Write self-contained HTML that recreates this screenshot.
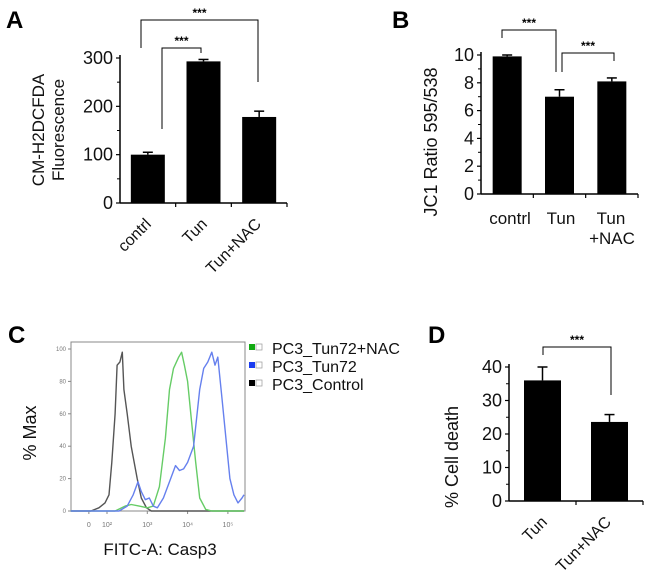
<!DOCTYPE html>
<html><head><meta charset="utf-8"><style>
html,body{margin:0;padding:0;background:#fff}
svg{display:block;font-family:"Liberation Sans",Arial,sans-serif}
</style></head><body>
<svg id="fig" width="650" height="583" viewBox="0 0 650 583">
<g id="A"></g>
<g id="B"></g>
<g id="C"></g>
<g id="D"></g>
</svg>
<script>
// Panel A data
const aCats=["contrl","Tun","Tun+NAC"];
const aVals=[100,293,178];
const aErr=[5,4,12];
const aTicks=[0,100,200,300];
// Panel B data
const bCats=["contrl","Tun","Tun"];
const bVals=[9.9,7.0,8.1];
const bErr=[0.1,0.5,0.25];
const bTicks=[0,2,4,6,8,10];
// Panel D data
const dCats=["Tun","Tun+NAC"];
const dVals=[36,23.6];
const dErr=[4,2.2];
const dTicks=[0,10,20,30,40];
// Panel C histogram data (x in log10 decades, y in % max)
const cTickLabels=["0","10²","10³","10⁴","10⁵"];
const cTickVals=[1.55,2,3,4,5];
const cYTicks=[0,20,40,60,80,100];
const cControl=[[1.1,0],[1.6,0],[1.8,2],[1.95,5],[2.05,10],[2.12,30],[2.2,60],[2.25,90],[2.32,92],[2.38,98],[2.42,75],[2.5,60],[2.6,40],[2.75,20],[2.85,8],[2.98,2],[3.1,0],[5.4,0]];
const cNac=[[1.1,0],[2.2,0],[2.45,3],[2.6,4],[2.8,3],[3.0,2],[3.15,3],[3.3,15],[3.45,45],[3.55,75],[3.65,88],[3.78,95],[3.85,98],[3.92,90],[4.0,80],[4.1,55],[4.2,30],[4.3,8],[4.45,1],[4.6,0],[5.4,0]];
const cTun=[[1.1,0],[2.3,0],[2.5,3],[2.65,10],[2.77,18],[2.85,12],[2.95,7],[3.05,8],[3.15,3],[3.25,2],[3.4,8],[3.55,18],[3.7,28],[3.8,25],[3.9,26],[4.0,30],[4.15,40],[4.3,75],[4.4,88],[4.5,92],[4.6,98],[4.68,90],[4.75,95],[4.85,70],[4.95,45],[5.05,20],[5.15,10],[5.25,5],[5.35,8],[5.4,10]];

const NS="http://www.w3.org/2000/svg";
function mk(p,t,a,txt){const e=document.createElementNS(NS,t);for(const k in a)e.setAttribute(k,a[k]);if(txt!==undefined)e.textContent=txt;p.appendChild(e);return e;}

function barPanel(g,o){
  const y=v=>o.y0-(v/o.max)*(o.y0-o.yTop);
  mk(g,'line',{x1:o.ax,y1:o.yTop-3,x2:o.ax,y2:o.y0,stroke:'#000','stroke-width':1.5});
  mk(g,'line',{x1:o.ax,y1:o.y0,x2:o.xEnd,y2:o.y0,stroke:'#000','stroke-width':1.5});
  o.ticks.forEach((t,i)=>{
    const ty=y(t);
    mk(g,'line',{x1:o.ax-4,y1:ty,x2:o.ax,y2:ty,stroke:'#000','stroke-width':1.2});
    if(i<o.ticks.length-1){const my=y((t+o.ticks[i+1])/2);mk(g,'line',{x1:o.ax-3,y1:my,x2:o.ax,y2:my,stroke:'#000','stroke-width':1});}
    const tl=mk(g,'text',{x:o.ax-7,y:ty+6,'text-anchor':'end','font-size':18,fill:'#111'},String(t));
    
    
  });
  const n=o.vals.length, step=(o.xEnd-o.ax)/n;
  for(let i=1;i<=n;i++)mk(g,'line',{x1:o.ax+step*i,y1:o.y0,x2:o.ax+step*i,y2:o.y0+4,stroke:'#000','stroke-width':1.2});
  o.vals.forEach((v,i)=>{
    const cx=o.ax+step*(i+0.5);
    const bw=o.bw;
    mk(g,'line',{x1:cx,y1:y(v),x2:cx,y2:y(v+o.err[i]),stroke:'#000','stroke-width':1.5});
    mk(g,'line',{x1:cx-5,y1:y(v+o.err[i]),x2:cx+5,y2:y(v+o.err[i]),stroke:'#000','stroke-width':1.5});
    const r=mk(g,'rect',{x:cx-bw/2,y:y(v),width:bw,height:o.y0-y(v),fill:'#000'});
    
    
  });
  return {y,step};
}
function bracket(g,x1,yd1,x2,yd2,yb){
  mk(g,'path',{d:`M${x1},${yd1}V${yb}H${x2}V${yd2}`,fill:'none',stroke:'#000','stroke-width':1});
  const s=mk(g,'text',{x:(x1+x2)/2,y:yb-3,'text-anchor':'middle','font-size':12,'font-weight':'bold',fill:'#000'},'***');
  
  
}
function label(g,x,y,t){const e=mk(g,'text',{x,y,'font-size':24,'font-weight':'bold',fill:'#000'},t);}

// Panel A
const A=document.getElementById('A');
label(A,6,28,'A');
barPanel(A,{ax:120,y0:203,yTop:58,max:300,xEnd:287,ticks:aTicks,vals:aVals,err:aErr,cats:aCats,bw:34});
bracket(A,141,48,258,82,20);
bracket(A,162,129,201,53,48);
aCats.forEach((c,i)=>{const x=[152,208,262][i];const t=mk(A,'text',{x,y:225,'text-anchor':'end','font-size':16,transform:`rotate(-45 ${x} 225)`,fill:'#111'},c);});
let t=mk(A,'text',{x:0,y:0,'text-anchor':'middle','font-size':17,transform:'translate(44,130) rotate(-90)',fill:'#111'},'CM-H2DCFDA');
t=mk(A,'text',{x:0,y:0,'text-anchor':'middle','font-size':17,transform:'translate(64,130) rotate(-90)',fill:'#111'},'Fluorescence');

// Panel B
const B=document.getElementById('B');
label(B,392,28,'B');
barPanel(B,{ax:481,y0:194,yTop:55,max:10,xEnd:638,ticks:bTicks,vals:bVals,err:bErr,cats:['contrl','tun','tunnac'],bw:29});
bracket(B,502,38,556,72,30);
bracket(B,562,72,614,61,53);
[[510,'contrl'],[561,'Tun'],[611,'Tun']].forEach(([x,s])=>{const e=mk(B,'text',{x,y:224,'text-anchor':'middle','font-size':17,fill:'#111'},s);});
t=mk(B,'text',{x:612,y:244,'text-anchor':'middle','font-size':17,fill:'#111'},'+NAC');
t=mk(B,'text',{x:0,y:0,'text-anchor':'middle','font-size':18,transform:'translate(437,142) rotate(-90)',fill:'#111'},'JC1 Ratio 595/538');

// Panel D
const D=document.getElementById('D');
label(D,428,343,'D');
barPanel(D,{ax:509,y0:501,yTop:367,max:40,xEnd:643,ticks:dTicks,vals:dVals,err:dErr,cats:dCats,bw:37});
bracket(D,543,355,611,395,347);
dCats.forEach((c,i)=>{const x=[548,612][i];const e=mk(D,'text',{x,y:523,'text-anchor':'end','font-size':16,transform:`rotate(-45 ${x} 523)`,fill:'#111'},c);});
t=mk(D,'text',{x:0,y:0,'text-anchor':'middle','font-size':18,transform:'translate(458,457) rotate(-90)',fill:'#111'},'% Cell death');

// Panel C
const C=document.getElementById('C');
label(C,8,343,'C');
const cx0=71,cx1=245,cy0=511,cy100=349;
const xs=v=>107+(v-2)*40.3;
const ys=v=>cy0-(v/100)*(cy0-cy100);
mk(C,'rect',{x:cx0,y:342,width:cx1-cx0,height:cy0-342,fill:'none',stroke:'#888','stroke-width':1});
cYTicks.forEach(v=>{mk(C,'line',{x1:cx0-3,y1:ys(v),x2:cx0,y2:ys(v),stroke:'#888'});const e=mk(C,'text',{x:cx0-5,y:ys(v)+2,'text-anchor':'end','font-size':6,fill:'#777'},String(v));});
cTickVals.forEach((v,i)=>{mk(C,'line',{x1:xs(v),y1:cy0,x2:xs(v),y2:cy0+3,stroke:'#888'});const e=mk(C,'text',{x:xs(v),y:527,'text-anchor':'middle','font-size':7,fill:'#777'},cTickLabels[i]);});
function curve(pts,col,name){const d=pts.map((p,i)=>(i?'L':'M')+xs(p[0]).toFixed(1)+','+ys(p[1]).toFixed(1)).join('');const e=mk(C,'path',{d,fill:'none',stroke:col,'stroke-width':1.4,'stroke-linejoin':'round'});}
curve(cControl,'#555','control-histogram');
curve(cNac,'#6c6','tun72-nac-histogram');
curve(cTun,'#6680ee','tun72-histogram');
[['#1a1','PC3_Tun72+NAC'],['#1a3cf0','PC3_Tun72'],['#000','PC3_Control']].forEach(([col,s],i)=>{
  const yy=344+i*18;
  mk(C,'rect',{x:249,y:yy,width:6,height:6,fill:col});
  mk(C,'rect',{x:256,y:yy,width:6,height:6,fill:'#fff',stroke:'#999','stroke-width':0.7});
  const e=mk(C,'text',{x:272,y:yy+10,'font-size':16,fill:'#111'},s);
  
  
});
t=mk(C,'text',{x:0,y:0,'text-anchor':'middle','font-size':18,transform:'translate(36,433) rotate(-90)',fill:'#111'},'% Max');
t=mk(C,'text',{x:160,y:555,'text-anchor':'middle','font-size':17,fill:'#111'},'FITC-A: Casp3');
</script>
</body></html>
